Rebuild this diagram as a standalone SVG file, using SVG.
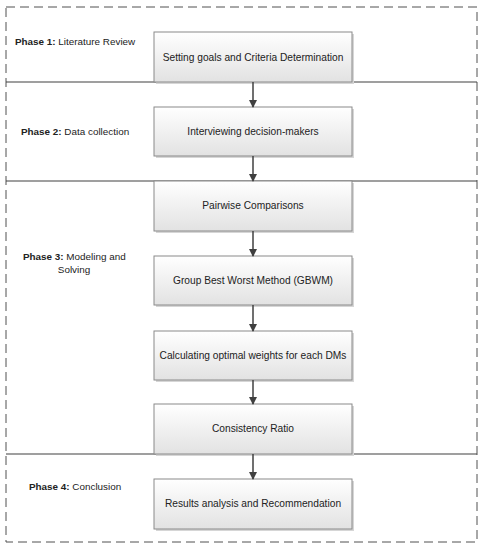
<svg xmlns="http://www.w3.org/2000/svg" width="484" height="550" viewBox="0 0 484 550">
<style>
.box{fill:url(#g);stroke:#8a8a8a;stroke-width:1}
.sh{fill:#d6d6d6}
.t{font-family:"Liberation Sans",Arial,sans-serif;font-size:10.2px;fill:#222;text-anchor:middle}
.p{font-family:"Liberation Sans",Arial,sans-serif;font-size:9.9px;fill:#222}
.p tspan.b{font-weight:bold}
.c{stroke:#404040;stroke-width:1.5;fill:none;marker-end:url(#ah)}
.sep{stroke:#404040;stroke-width:1.2}
</style>
<defs>
<linearGradient id="g" x1="0" y1="0" x2="0" y2="1">
<stop offset="0" stop-color="#ffffff"/>
<stop offset="1" stop-color="#e2e2e2"/>
</linearGradient>
<marker id="ah" markerWidth="8" markerHeight="8" refX="7" refY="4" orient="auto" markerUnits="userSpaceOnUse">
<path d="M0,0 L8,4 L0,8 Z" fill="#404040"/>
</marker>
</defs>
<rect width="484" height="550" fill="#ffffff"/>
<g id="frame">
<rect x="6" y="7" width="471" height="535" fill="none" stroke="#505050" stroke-width="1" stroke-dasharray="9,5"/>
<line class="sep" x1="6" y1="82" x2="477" y2="82"/>
<line class="sep" x1="6" y1="181" x2="477" y2="181"/>
<line class="sep" x1="6" y1="454" x2="477" y2="454"/>
</g>
<g id="labels">
<text class="p" x="15" y="45"><tspan class="b">Phase 1:</tspan> Literature Review</text>
<text class="p" x="21" y="135"><tspan class="b">Phase 2:</tspan> Data collection</text>
<text class="p" x="23" y="260"><tspan class="b">Phase 3:</tspan> Modeling and</text>
<text class="p" x="74" y="273" text-anchor="middle">Solving</text>
<text class="p" x="29" y="490"><tspan class="b">Phase 4:</tspan> Conclusion</text>
</g>
<g id="n1"><rect class="sh" x="156" y="34" width="198" height="50"/><rect class="box" x="154" y="32" width="198" height="50"/><text class="t" x="253" y="60.5">Setting goals and Criteria Determination</text></g>
<g id="n2"><rect class="sh" x="156" y="109" width="198" height="49"/><rect class="box" x="154" y="107" width="198" height="49"/><text class="t" x="253" y="135">Interviewing decision-makers</text></g>
<g id="n3"><rect class="sh" x="156" y="183" width="198" height="50"/><rect class="box" x="154" y="181" width="198" height="50"/><text class="t" x="253" y="209">Pairwise Comparisons</text></g>
<g id="n4"><rect class="sh" x="156" y="258" width="198" height="49"/><rect class="box" x="154" y="256" width="198" height="49"/><text class="t" x="253" y="284">Group Best Worst Method (GBWM)</text></g>
<g id="n5"><rect class="sh" x="156" y="333" width="198" height="49"/><rect class="box" x="154" y="331" width="198" height="49"/><text class="t" x="253" y="359">Calculating optimal weights for each DMs</text></g>
<g id="n6"><rect class="sh" x="156" y="406" width="198" height="50"/><rect class="box" x="154" y="404" width="198" height="50"/><text class="t" x="253" y="432">Consistency Ratio</text></g>
<g id="n7"><rect class="sh" x="156" y="481" width="198" height="50"/><rect class="box" x="154" y="479" width="198" height="50"/><text class="t" x="253" y="507">Results analysis and Recommendation</text></g>
<g id="connectors">
<line class="c" x1="253" y1="82" x2="253" y2="107"/>
<line class="c" x1="253" y1="156" x2="253" y2="181"/>
<line class="c" x1="253" y1="231" x2="253" y2="256"/>
<line class="c" x1="253" y1="305" x2="253" y2="331"/>
<line class="c" x1="253" y1="380" x2="253" y2="404"/>
<line class="c" x1="253" y1="454" x2="253" y2="479"/>
</g>
</svg>
